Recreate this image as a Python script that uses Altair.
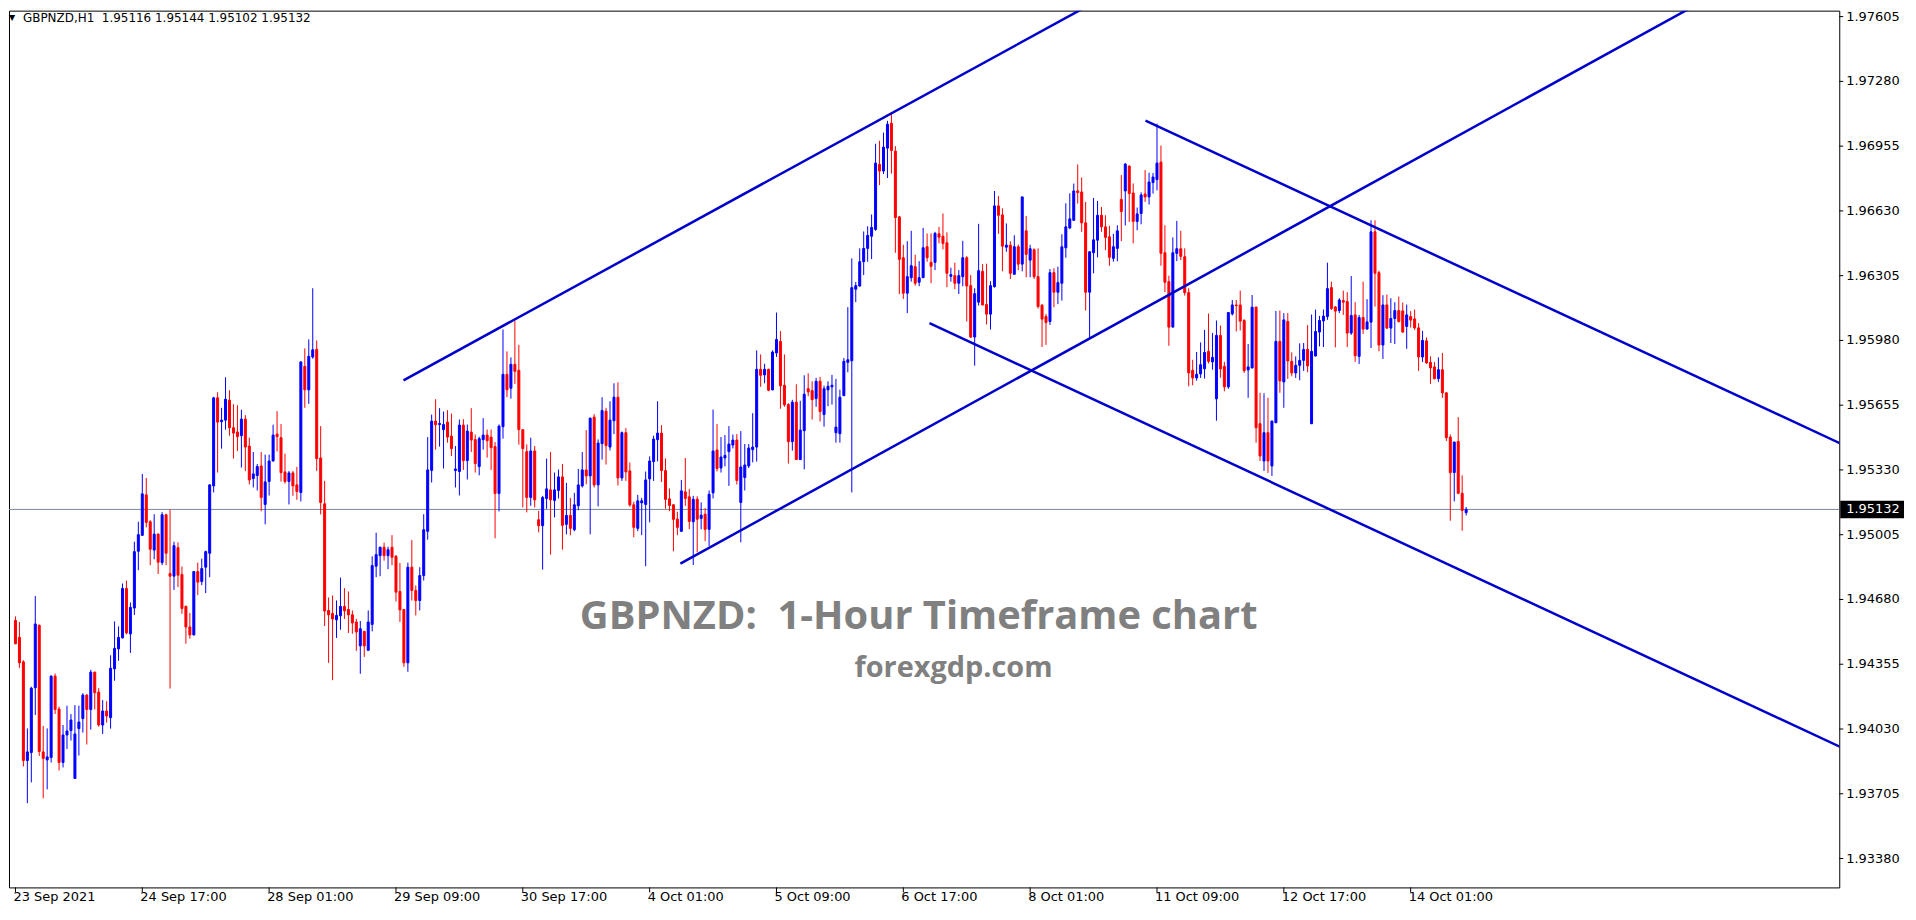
import altair as alt
import pandas as pd

# ---- candle data (GBPNZD H1) ----
bar_open = [
1.94575, 1.94490, 1.94367, 1.93872, 1.93912, 1.94237, 1.94550, 1.93915, 1.93875, 1.93887,
1.94295, 1.94130, 1.93862, 1.94000, 1.94022, 1.93782, 1.94032, 1.94082, 1.94200, 1.94128,
1.94315, 1.94215, 1.94050, 1.94120, 1.94087, 1.94332, 1.94432, 1.94487, 1.94735, 1.94507,
1.94637, 1.94922, 1.95002, 1.95205, 1.95070, 1.94928, 1.95008, 1.94865, 1.95105, 1.94810,
1.94797, 1.94940, 1.94805, 1.94645, 1.94542, 1.94502, 1.94820, 1.94770, 1.94842, 1.94912,
1.95250, 1.95692, 1.95572, 1.95580, 1.95680, 1.95542, 1.95520, 1.95502, 1.95585, 1.95450,
1.95287, 1.95302, 1.95350, 1.95157, 1.95272, 1.95375, 1.95510, 1.95492, 1.95320, 1.95272,
1.95315, 1.95255, 1.95217, 1.95850, 1.95732, 1.95897, 1.95935, 1.95390, 1.95160, 1.94625,
1.94610, 1.94578, 1.94598, 1.94645, 1.94630, 1.94603, 1.94567, 1.94447, 1.94520, 1.94425,
1.94555, 1.94847, 1.94900, 1.94942, 1.94900, 1.94942, 1.94897, 1.94720, 1.94630, 1.94362,
1.94842, 1.94725, 1.94675, 1.94800, 1.95022, 1.95328, 1.95575, 1.95558, 1.95532, 1.95570,
1.95500, 1.95327, 1.95322, 1.95555, 1.95377, 1.95520, 1.95482, 1.95347, 1.95482, 1.95505,
1.95495, 1.95447, 1.95212, 1.95547, 1.95810, 1.95740, 1.95860, 1.95830, 1.95532, 1.95422,
1.95192, 1.95425, 1.95080, 1.95050, 1.95187, 1.95230, 1.95177, 1.95227, 1.95295, 1.95057,
1.95102, 1.95030, 1.95150, 1.95250, 1.95330, 1.95300, 1.95595, 1.95255, 1.95462, 1.95625,
1.95445, 1.95577, 1.95695, 1.95290, 1.95517, 1.95325, 1.95155, 1.95037, 1.95165, 1.95157,
1.95285, 1.95372, 1.95482, 1.95515, 1.95327, 1.95185, 1.95155, 1.95083, 1.95022, 1.95220,
1.95195, 1.95070, 1.95183, 1.95087, 1.95108, 1.95032, 1.95215, 1.95430, 1.95340, 1.95390,
1.95422, 1.95455, 1.95480, 1.95167, 1.95292, 1.95350, 1.95432, 1.95445, 1.95835, 1.95807,
1.95835, 1.95732, 1.95917, 1.95975, 1.95755, 1.95658, 1.95472, 1.95670, 1.95382, 1.95527,
1.95738, 1.95728, 1.95688, 1.95775, 1.95608, 1.95732, 1.95747, 1.95517, 1.95512, 1.95703,
1.95870, 1.95878, 1.96237, 1.96253, 1.96375, 1.96442, 1.96503, 1.96537, 1.96863, 1.96830,
1.96945, 1.97070, 1.96930, 1.96600, 1.96395, 1.96217, 1.96295, 1.96350, 1.96272, 1.96295,
1.96450, 1.96372, 1.96372, 1.96515, 1.96503, 1.96470, 1.96302, 1.96305, 1.96267, 1.96300,
1.96395, 1.96255, 1.95997, 1.96172, 1.96327, 1.96160, 1.96112, 1.96250, 1.96655, 1.96610,
1.96448, 1.96458, 1.96312, 1.96450, 1.96363, 1.96530, 1.96383, 1.96435, 1.96300, 1.96157,
1.96100, 1.96075, 1.96320, 1.96222, 1.96267, 1.96445, 1.96545, 1.96583, 1.96730, 1.96725,
1.96570, 1.96222, 1.96420, 1.96483, 1.96608, 1.96550, 1.96500, 1.96392, 1.96442, 1.96688,
1.96730, 1.96855, 1.96720, 1.96577, 1.96617, 1.96715, 1.96700, 1.96772, 1.96787, 1.96875,
1.96420, 1.96275, 1.96047, 1.96417, 1.96440, 1.96400, 1.96220, 1.95830, 1.95792, 1.95812,
1.95838, 1.95925, 1.95872, 1.95687, 1.96005, 1.95850, 1.95747, 1.96113, 1.96158, 1.96158,
1.96080, 1.95832, 1.95842, 1.96147, 1.95562, 1.95375, 1.95517, 1.95350, 1.95567, 1.95975,
1.95772, 1.96075, 1.95875, 1.95817, 1.95855, 1.95880, 1.95935, 1.95562, 1.95902, 1.96022,
1.96078, 1.96100, 1.96245, 1.96148, 1.96130, 1.96180, 1.96175, 1.96017, 1.96108, 1.95900,
1.96095, 1.96037, 1.96072, 1.96525, 1.96320, 1.95957, 1.96158, 1.96042, 1.96090, 1.96130,
1.96128, 1.96050, 1.96100, 1.96088, 1.96043, 1.95897, 1.95978, 1.95870, 1.95847, 1.95788,
1.95833, 1.95717, 1.95495, 1.95317, 1.95473, 1.95213, 1.95116,
]

bar_high = [
1.94595, 1.94567, 1.94375, 1.94033, 1.94242, 1.94697, 1.94555, 1.94045, 1.94033, 1.94300,
1.94308, 1.94142, 1.94050, 1.94147, 1.94105, 1.94150, 1.94147, 1.94210, 1.94205, 1.94327,
1.94318, 1.94235, 1.94175, 1.94170, 1.94400, 1.94570, 1.94545, 1.94760, 1.94775, 1.94665,
1.94970, 1.95070, 1.95310, 1.95290, 1.95078, 1.95108, 1.95012, 1.95118, 1.95110, 1.95132,
1.94970, 1.94967, 1.94845, 1.94650, 1.94612, 1.94822, 1.94865, 1.94885, 1.94925, 1.95258,
1.95697, 1.95720, 1.95642, 1.95795, 1.95730, 1.95660, 1.95655, 1.95632, 1.95605, 1.95492,
1.95420, 1.95360, 1.95420, 1.95407, 1.95407, 1.95557, 1.95625, 1.95560, 1.95412, 1.95325,
1.95325, 1.95345, 1.95875, 1.95940, 1.95985, 1.96242, 1.95980, 1.95550, 1.95275, 1.94690,
1.94700, 1.94675, 1.94790, 1.94737, 1.94720, 1.94625, 1.94583, 1.94572, 1.94522, 1.94625,
1.94897, 1.95015, 1.94945, 1.94965, 1.94945, 1.95003, 1.94903, 1.94863, 1.94632, 1.94865,
1.94978, 1.94750, 1.94842, 1.95108, 1.95495, 1.95608, 1.95685, 1.95640, 1.95623, 1.95630,
1.95613, 1.95450, 1.95583, 1.95585, 1.95558, 1.95640, 1.95508, 1.95497, 1.95590, 1.95533,
1.95533, 1.95470, 1.95558, 1.96035, 1.95925, 1.95895, 1.96080, 1.95958, 1.95535, 1.95458,
1.95492, 1.95450, 1.95125, 1.95200, 1.95387, 1.95420, 1.95317, 1.95332, 1.95360, 1.95265,
1.95190, 1.95215, 1.95335, 1.95420, 1.95530, 1.95593, 1.95610, 1.95483, 1.95695, 1.95642,
1.95675, 1.95765, 1.95770, 1.95523, 1.95540, 1.95367, 1.95170, 1.95205, 1.95190, 1.95322,
1.95398, 1.95502, 1.95675, 1.95555, 1.95388, 1.95237, 1.95158, 1.95120, 1.95280, 1.95390,
1.95235, 1.95200, 1.95198, 1.95167, 1.95138, 1.95227, 1.95633, 1.95560, 1.95495, 1.95505,
1.95550, 1.95508, 1.95510, 1.95525, 1.95460, 1.95460, 1.95615, 1.95930, 1.95910, 1.95863,
1.95838, 1.95930, 1.96120, 1.96027, 1.95910, 1.95665, 1.95682, 1.95760, 1.95677, 1.95805,
1.95815, 1.95775, 1.95792, 1.95797, 1.95753, 1.95775, 1.95807, 1.95787, 1.95733, 1.95892,
1.96147, 1.96392, 1.96273, 1.96442, 1.96527, 1.96553, 1.96612, 1.96967, 1.96982, 1.97023,
1.97082, 1.97125, 1.96955, 1.96605, 1.96460, 1.96478, 1.96530, 1.96410, 1.96378, 1.96545,
1.96517, 1.96517, 1.96525, 1.96550, 1.96617, 1.96522, 1.96345, 1.96370, 1.96333, 1.96480,
1.96403, 1.96308, 1.96242, 1.96565, 1.96363, 1.96365, 1.96277, 1.96730, 1.96705, 1.96643,
1.96567, 1.96478, 1.96508, 1.96462, 1.96702, 1.96605, 1.96460, 1.96442, 1.96442, 1.96162,
1.96113, 1.96338, 1.96342, 1.96350, 1.96513, 1.96668, 1.96718, 1.96767, 1.96863, 1.96798,
1.96675, 1.96427, 1.96695, 1.96680, 1.96650, 1.96608, 1.96555, 1.96515, 1.96558, 1.96810,
1.96870, 1.96858, 1.96768, 1.96647, 1.96723, 1.96835, 1.96822, 1.96820, 1.97068, 1.96958,
1.96558, 1.96305, 1.96497, 1.96580, 1.96530, 1.96442, 1.96242, 1.95883, 1.95922, 1.95970,
1.96033, 1.96115, 1.96017, 1.96080, 1.96055, 1.95873, 1.96122, 1.96183, 1.96183, 1.96230,
1.96087, 1.95962, 1.96208, 1.96150, 1.95717, 1.95715, 1.95692, 1.95578, 1.96128, 1.96130,
1.96117, 1.96117, 1.95920, 1.95900, 1.95965, 1.95967, 1.96057, 1.96110, 1.96135, 1.96103,
1.96135, 1.96370, 1.96275, 1.96153, 1.96192, 1.96230, 1.96222, 1.96303, 1.96172, 1.96108,
1.96275, 1.96187, 1.96583, 1.96583, 1.96330, 1.96207, 1.96210, 1.96192, 1.96172, 1.96200,
1.96170, 1.96160, 1.96127, 1.96135, 1.96067, 1.96028, 1.95995, 1.95900, 1.95872, 1.95895,
1.95917, 1.95720, 1.95508, 1.95472, 1.95595, 1.95303, 1.95144,
]

bar_low = [
1.94455, 1.94337, 1.93842, 1.93658, 1.93762, 1.94100, 1.93895, 1.93682, 1.93727, 1.93862,
1.94105, 1.93822, 1.93837, 1.93930, 1.93972, 1.93780, 1.93897, 1.94012, 1.93952, 1.94027,
1.94128, 1.94042, 1.94005, 1.94062, 1.94032, 1.94272, 1.94372, 1.94485, 1.94505, 1.94412,
1.94602, 1.94827, 1.95000, 1.95042, 1.94852, 1.94882, 1.94808, 1.94852, 1.94852, 1.94233,
1.94728, 1.94742, 1.94608, 1.94458, 1.94483, 1.94500, 1.94702, 1.94752, 1.94712, 1.94792,
1.95217, 1.95317, 1.95437, 1.95532, 1.95502, 1.95387, 1.95425, 1.95342, 1.95325, 1.95257,
1.95242, 1.95227, 1.95123, 1.95057, 1.95202, 1.95372, 1.95423, 1.95272, 1.95262, 1.95157,
1.95200, 1.95180, 1.95172, 1.95642, 1.95662, 1.95888, 1.95325, 1.95107, 1.94547, 1.94362,
1.94275, 1.94487, 1.94528, 1.94582, 1.94512, 1.94508, 1.94422, 1.94307, 1.94392, 1.94423,
1.94520, 1.94792, 1.94797, 1.94875, 1.94832, 1.94852, 1.94670, 1.94567, 1.94342, 1.94317,
1.94675, 1.94600, 1.94625, 1.94775, 1.94980, 1.95267, 1.95432, 1.95447, 1.95337, 1.95467,
1.95400, 1.95242, 1.95202, 1.95330, 1.95282, 1.95420, 1.95317, 1.95303, 1.95432, 1.95392,
1.95330, 1.94987, 1.95122, 1.95487, 1.95695, 1.95688, 1.95762, 1.95457, 1.95142, 1.95117,
1.95150, 1.95142, 1.95017, 1.94830, 1.95135, 1.94905, 1.95092, 1.95187, 1.94930, 1.95007,
1.95002, 1.95022, 1.95128, 1.95242, 1.95258, 1.95007, 1.95242, 1.95147, 1.95382, 1.95357,
1.95428, 1.95510, 1.95252, 1.95275, 1.95275, 1.95145, 1.94992, 1.95023, 1.95003, 1.94847,
1.95067, 1.95275, 1.95373, 1.95270, 1.95135, 1.95123, 1.94922, 1.95003, 1.95020, 1.95150,
1.95033, 1.94853, 1.94917, 1.95032, 1.94973, 1.94947, 1.95187, 1.95323, 1.95317, 1.95348,
1.95250, 1.95438, 1.95257, 1.94967, 1.95227, 1.95340, 1.95368, 1.95372, 1.95747, 1.95765,
1.95725, 1.95730, 1.95897, 1.95637, 1.95647, 1.95362, 1.95427, 1.95380, 1.95380, 1.95333,
1.95700, 1.95583, 1.95647, 1.95573, 1.95547, 1.95650, 1.95658, 1.95467, 1.95467, 1.95700,
1.95820, 1.95217, 1.96172, 1.96250, 1.96308, 1.96375, 1.96388, 1.96530, 1.96760, 1.96815,
1.96795, 1.96817, 1.96420, 1.96212, 1.96188, 1.96117, 1.96275, 1.96255, 1.96252, 1.96293,
1.96375, 1.96267, 1.96333, 1.96467, 1.96437, 1.96247, 1.96275, 1.96237, 1.96213, 1.96252,
1.96075, 1.95992, 1.95853, 1.96155, 1.96157, 1.96060, 1.96035, 1.96245, 1.96515, 1.96327,
1.96425, 1.96288, 1.96310, 1.96333, 1.96327, 1.96297, 1.96297, 1.96288, 1.96140, 1.95947,
1.95958, 1.96058, 1.96147, 1.96162, 1.96180, 1.96395, 1.96538, 1.96580, 1.96667, 1.96525,
1.96130, 1.95992, 1.96317, 1.96397, 1.96525, 1.96433, 1.96355, 1.96375, 1.96377, 1.96478,
1.96557, 1.96575, 1.96467, 1.96533, 1.96563, 1.96675, 1.96662, 1.96717, 1.96733, 1.96355,
1.96223, 1.95953, 1.96045, 1.96378, 1.96383, 1.96205, 1.95750, 1.95755, 1.95778, 1.95792,
1.95788, 1.95865, 1.95833, 1.95577, 1.95793, 1.95725, 1.95737, 1.96105, 1.96025, 1.96030,
1.95817, 1.95692, 1.95840, 1.95467, 1.95375, 1.95325, 1.95315, 1.95300, 1.95565, 1.95717,
1.95642, 1.95787, 1.95800, 1.95792, 1.95780, 1.95827, 1.95820, 1.95560, 1.95900, 1.95950,
1.95947, 1.96083, 1.96133, 1.95945, 1.96117, 1.96108, 1.95947, 1.96008, 1.95872, 1.95862,
1.96013, 1.96035, 1.95942, 1.96150, 1.95925, 1.95887, 1.96037, 1.95967, 1.95962, 1.96070,
1.96018, 1.95938, 1.96045, 1.96033, 1.95827, 1.95872, 1.95863, 1.95762, 1.95785, 1.95772,
1.95692, 1.95475, 1.95075, 1.95172, 1.95208, 1.95025, 1.95102,
]

bar_close = [
1.94458, 1.94362, 1.93872, 1.93915, 1.94235, 1.94557, 1.93917, 1.93882, 1.93890, 1.94295,
1.94128, 1.93862, 1.94000, 1.94020, 1.94075, 1.94005, 1.94065, 1.94200, 1.94128, 1.94315,
1.94212, 1.94050, 1.94120, 1.94095, 1.94335, 1.94435, 1.94490, 1.94735, 1.94512, 1.94640,
1.94920, 1.95005, 1.95210, 1.95067, 1.94932, 1.95008, 1.94867, 1.95105, 1.94912, 1.94797,
1.94950, 1.94802, 1.94635, 1.94542, 1.94502, 1.94820, 1.94767, 1.94835, 1.94920, 1.95255,
1.95692, 1.95570, 1.95580, 1.95685, 1.95542, 1.95515, 1.95497, 1.95585, 1.95445, 1.95280,
1.95310, 1.95347, 1.95192, 1.95270, 1.95375, 1.95505, 1.95497, 1.95317, 1.95272, 1.95315,
1.95250, 1.95222, 1.95872, 1.95732, 1.95900, 1.95933, 1.95387, 1.95167, 1.94622, 1.94603,
1.94582, 1.94600, 1.94645, 1.94623, 1.94603, 1.94562, 1.94517, 1.94533, 1.94447, 1.94567,
1.94850, 1.94905, 1.94942, 1.94900, 1.94930, 1.94892, 1.94717, 1.94628, 1.94362, 1.94842,
1.94725, 1.94675, 1.94800, 1.95030, 1.95330, 1.95575, 1.95557, 1.95563, 1.95558, 1.95495,
1.95437, 1.95335, 1.95555, 1.95377, 1.95525, 1.95480, 1.95362, 1.95487, 1.95505, 1.95477,
1.95442, 1.95212, 1.95550, 1.95810, 1.95732, 1.95860, 1.95825, 1.95532, 1.95437, 1.95192,
1.95425, 1.95180, 1.95050, 1.95192, 1.95235, 1.95180, 1.95230, 1.95295, 1.95052, 1.95102,
1.95037, 1.95155, 1.95255, 1.95330, 1.95300, 1.95590, 1.95255, 1.95465, 1.95628, 1.95452,
1.95580, 1.95695, 1.95290, 1.95517, 1.95320, 1.95155, 1.95042, 1.95175, 1.95175, 1.95280,
1.95375, 1.95485, 1.95515, 1.95327, 1.95182, 1.95152, 1.95082, 1.95042, 1.95225, 1.95187,
1.95072, 1.95183, 1.95083, 1.95103, 1.95032, 1.95208, 1.95425, 1.95337, 1.95395, 1.95403,
1.95460, 1.95480, 1.95277, 1.95345, 1.95355, 1.95440, 1.95445, 1.95835, 1.95805, 1.95835,
1.95730, 1.95922, 1.95985, 1.95752, 1.95657, 1.95472, 1.95670, 1.95382, 1.95530, 1.95710,
1.95722, 1.95683, 1.95775, 1.95623, 1.95738, 1.95750, 1.95755, 1.95545, 1.95695, 1.95875,
1.95883, 1.96245, 1.96255, 1.96375, 1.96442, 1.96507, 1.96547, 1.96870, 1.96830, 1.96950,
1.97065, 1.96933, 1.96597, 1.96387, 1.96217, 1.96300, 1.96355, 1.96267, 1.96295, 1.96445,
1.96395, 1.96352, 1.96517, 1.96498, 1.96467, 1.96317, 1.96310, 1.96267, 1.96305, 1.96395,
1.96253, 1.95997, 1.96215, 1.96330, 1.96158, 1.96112, 1.96255, 1.96655, 1.96608, 1.96453,
1.96458, 1.96317, 1.96450, 1.96363, 1.96700, 1.96412, 1.96440, 1.96300, 1.96150, 1.96087,
1.96070, 1.96320, 1.96222, 1.96270, 1.96450, 1.96550, 1.96590, 1.96730, 1.96722, 1.96570,
1.96222, 1.96425, 1.96485, 1.96608, 1.96550, 1.96497, 1.96397, 1.96450, 1.96530, 1.96627,
1.96865, 1.96717, 1.96577, 1.96615, 1.96710, 1.96700, 1.96775, 1.96800, 1.96870, 1.96417,
1.96272, 1.96047, 1.96420, 1.96440, 1.96402, 1.96220, 1.95817, 1.95792, 1.95810, 1.95858,
1.95920, 1.95875, 1.95895, 1.96005, 1.95837, 1.95747, 1.96120, 1.96158, 1.96155, 1.96077,
1.95828, 1.95847, 1.96147, 1.95542, 1.95400, 1.95517, 1.95375, 1.95575, 1.95975, 1.95777,
1.96083, 1.95877, 1.95817, 1.95855, 1.95880, 1.95935, 1.95852, 1.95925, 1.96025, 1.96080,
1.96102, 1.96240, 1.96140, 1.96127, 1.96183, 1.96172, 1.96017, 1.96105, 1.95903, 1.96095,
1.96037, 1.96073, 1.96525, 1.96317, 1.95957, 1.96158, 1.96042, 1.96090, 1.96130, 1.96075,
1.96022, 1.96108, 1.96082, 1.96043, 1.95897, 1.95980, 1.95867, 1.95842, 1.95788, 1.95833,
1.95717, 1.95492, 1.95317, 1.95470, 1.95213, 1.95127, 1.95132,
]

# ---- axis labels / text ----
date_label_bars = [0, 32, 64, 96, 128, 160, 192, 224, 256, 288, 320, 352]
date_labels = ["23 Sep 2021", "24 Sep 17:00", "28 Sep 01:00", "29 Sep 09:00",
               "30 Sep 17:00", "4 Oct 01:00", "5 Oct 09:00", "6 Oct 17:00",
               "8 Oct 01:00", "11 Oct 09:00", "12 Oct 17:00", "14 Oct 01:00"]
price_ticks = [1.97605, 1.97280, 1.96955, 1.96630, 1.96305, 1.95980, 1.95655,
               1.95330, 1.95005, 1.94680, 1.94355, 1.94030, 1.93705, 1.93380]
last_price = 1.95132
header_symbol = "GBPNZD,H1"
header_ohlc = [1.95116, 1.95144, 1.95102, 1.95132]
watermark_title = "GBPNZD:  1-Hour Timeframe chart"
watermark_site = "forexgdp.com"

# ---- hand-drawn trend lines (bar index, price) ----
trend_bar_start = [97.9, 167.75, 285.1, 230.6]
trend_price_start = [1.95780, 1.94860, 1.97083, 1.96067]
trend_bar_end = [271.1, 424.1, 460.4, 460.4]
trend_price_end = [1.97665, 1.97665, 1.95463, 1.93940]

W, H = 1837, 880
FONT = "DejaVu Sans"
AX_SIZE = 13
x_scale = alt.Scale(domain=[-0.375, 458.875], nice=False, zero=False)
y_scale = alt.Scale(domain=[1.93235, 1.97635], nice=False, zero=False)


def keep_spaces(s):
    return s.replace("  ", "\u00a0 ")


candles = pd.DataFrame({
    "bar": list(range(len(bar_open))),
    "open": bar_open, "high": bar_high, "low": bar_low, "close": bar_close,
})
candles["dir"] = ["up" if c >= o else "down" for o, c in zip(bar_open, bar_close)]
candles["body_lo"] = candles[["open", "close"]].min(axis=1)
candles["body_hi"] = candles[["open", "close"]].max(axis=1)

dir_scale = alt.Scale(domain=["up", "down"], range=["#0000ff", "#ff0000"])


def X(field):
    return alt.X(field, scale=x_scale, axis=None)


def Y(field):
    return alt.Y(field, scale=y_scale, axis=None)


price_df = pd.DataFrame({"price": [last_price]})

price_line = alt.Chart(price_df).mark_rule(color="#778899", strokeWidth=1).encode(
    y=Y("price:Q")
)

wicks = alt.Chart(candles).mark_rule(strokeWidth=1).encode(
    x=X("bar:Q"), y=Y("low:Q"), y2="high:Q",
    color=alt.Color("dir:N", scale=dir_scale, legend=None),
)

bodies = alt.Chart(candles).mark_bar(size=2, strokeWidth=1).encode(
    x=X("bar:Q"), y=Y("body_lo:Q"), y2="body_hi:Q",
    color=alt.Color("dir:N", scale=dir_scale, legend=None),
    stroke=alt.Stroke("dir:N", scale=dir_scale, legend=None),
)

trend_df = pd.DataFrame({"x1": trend_bar_start, "y1": trend_price_start,
                         "x2": trend_bar_end, "y2": trend_price_end})
trends = alt.Chart(trend_df).mark_rule(color="#0000cd", strokeWidth=2.5, clip=True).encode(
    x=X("x1:Q"), x2="x2:Q", y=Y("y1:Q"), y2="y2:Q",
)

# ---- bottom time scale (ticks + labels at bar positions) ----
dates_df = pd.DataFrame({"bar": date_label_bars, "label": date_labels})
date_ticks = alt.Chart(dates_df).mark_rule(color="black", strokeWidth=1).encode(
    x=X("bar:Q"), y=alt.value(H), y2=alt.value(H + 5)
)
date_text = alt.Chart(dates_df).mark_text(
    align="left", baseline="top", font=FONT, fontSize=AX_SIZE, color="black", dx=-2
).encode(x=X("bar:Q"), y=alt.value(H + 4), text="label:N")

# ---- right price scale ----
ticks_df = pd.DataFrame({"price": price_ticks})
price_tick_marks = alt.Chart(ticks_df).mark_rule(color="black", strokeWidth=1).encode(
    x=alt.value(W), x2=alt.value(W + 4), y=Y("price:Q")
)
price_tick_text = alt.Chart(ticks_df).mark_text(
    align="left", baseline="middle", font=FONT, fontSize=AX_SIZE, color="black"
).encode(x=alt.value(W + 7), y=Y("price:Q"), text=alt.Text("price:Q", format=".5f"))

price_box = alt.Chart(price_df).transform_calculate(
    lo="datum.price - 0.00044", hi="datum.price + 0.00044"
).mark_rect(color="black").encode(
    x=alt.value(W + 1), x2=alt.value(W + 65), y=Y("lo:Q"), y2="hi:Q",
)
price_text = alt.Chart(price_df).mark_text(
    color="white", align="left", baseline="middle", font=FONT, fontSize=AX_SIZE
).encode(x=alt.value(W + 7), y=Y("price:Q"), text=alt.Text("price:Q", format=".5f"))

# ---- header and watermark ----
header_str = keep_spaces(header_symbol + "  " + " ".join("%.5f" % v for v in header_ohlc))
header_df = pd.DataFrame({"t": [header_str]})
tri = alt.Chart(header_df).mark_text(
    text="\u25BC", fontSize=8, color="black", font=FONT, align="center", baseline="middle"
).encode(x=alt.value(3), y=alt.value(7))
header = alt.Chart(header_df).mark_text(
    align="left", baseline="middle", font=FONT, fontSize=12, color="black"
).encode(x=alt.value(14), y=alt.value(7), text="t:N")

wm_df = pd.DataFrame({"t": [keep_spaces(watermark_title)]})
wm = alt.Chart(wm_df).mark_text(
    font="Open Sans", fontWeight="bold", fontSize=40, color="#808080",
    align="center", baseline="middle"
).encode(x=alt.value(913), y=alt.value(609), text="t:N")

site_df = pd.DataFrame({"t": [watermark_site]})
site = alt.Chart(site_df).mark_text(
    font="Open Sans", fontWeight="bold", fontSize=29, color="#808080",
    align="center", baseline="middle"
).encode(x=alt.value(948), y=alt.value(660), text="t:N")

chart = alt.layer(
    price_line, wicks, bodies, trends, date_ticks, date_text,
    price_tick_marks, price_tick_text, price_box, price_text,
    tri, header, wm, site
).properties(
    width=W, height=H,
    padding={"left": 0, "top": 0, "right": 4, "bottom": 0},
    background="white",
).configure_view(stroke="black", strokeWidth=1)

chart.save("out.html", embed_options={"renderer": "svg", "actions": False})
